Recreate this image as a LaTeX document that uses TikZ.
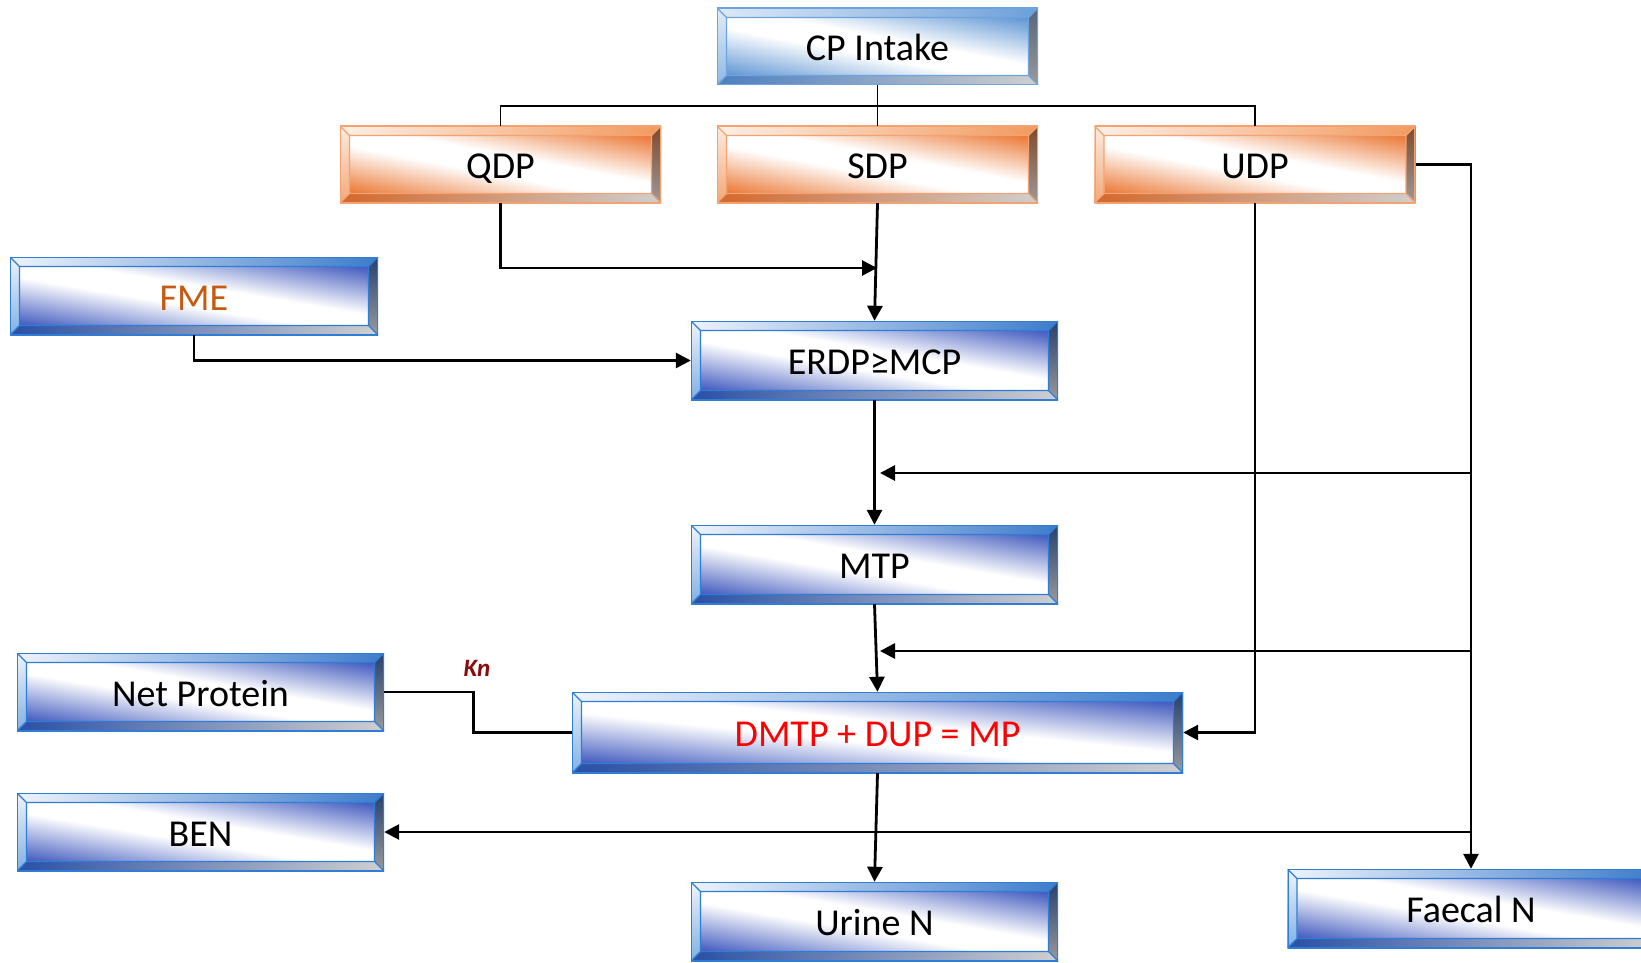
\documentclass[tikz,border=0pt]{standalone}
\usepackage{fontspec}
\setmainfont{Carlito}
\usetikzlibrary{arrows.meta,calc}

% dark blue boxes
\definecolor{b-topl}{HTML}{EEF3FB}
\definecolor{b-topr}{HTML}{3D7CCB}
\definecolor{b-lt}{HTML}{EEF4FB}
\definecolor{b-lb}{HTML}{7FB0E3}
\definecolor{b-rt}{HTML}{27406F}
\definecolor{b-rb}{HTML}{9A9A9A}
\definecolor{b-bl}{HTML}{2A50A5}
\definecolor{b-br}{HTML}{CFCFCF}
\definecolor{b-bord}{HTML}{2F7DD6}
% light blue box
\definecolor{l-topl}{HTML}{DDE9F7}
\definecolor{l-topr}{HTML}{6CA0DA}
\definecolor{l-lt}{HTML}{E2EDF8}
\definecolor{l-lb}{HTML}{8DB8E6}
\definecolor{l-rt}{HTML}{55657A}
\definecolor{l-rb}{HTML}{9A9A9A}
\definecolor{l-bl}{HTML}{4D7FC0}
\definecolor{l-br}{HTML}{CFCFCF}
\definecolor{l-bord}{HTML}{6FA3DD}
% orange boxes
\definecolor{o-topl}{HTML}{FDEFE5}
\definecolor{o-topr}{HTML}{F29A5E}
\definecolor{o-lt}{HTML}{FCEBDF}
\definecolor{o-lb}{HTML}{F3A878}
\definecolor{o-rt}{HTML}{7E4A2C}
\definecolor{o-rb}{HTML}{9A9A9A}
\definecolor{o-bl}{HTML}{D3682C}
\definecolor{o-br}{HTML}{CFCFCF}
\definecolor{o-bord}{HTML}{F4A271}

\definecolor{fmetext}{HTML}{C55A11}
\definecolor{kncol}{HTML}{8B0A0A}

% interior: white diagonal band, colour in the bottom-left and top-right corners
% args: name, 1-r, 1-g, 1-b
\newcommand\declband[4]{%
  \pgfdeclarefunctionalshading{band-#1}{\pgfpointorigin}{\pgfpoint{100bp}{100bp}}{}{%
    add 50 sub 100 div 0.5 sub abs 0.09 sub 0.41 div
    dup 0 lt {pop 0} if dup 1 gt {pop 1} if
    dup #2 mul 1 exch sub exch
    dup #3 mul 1 exch sub exch
    #4 mul 1 exch sub}}
\declband{b}{0.753}{0.655}{0.255}
\declband{l}{0.631}{0.416}{0.173}
\declband{o}{0.078}{0.537}{0.800}

\newcommand\bevelpic[1]{%
  \path (path picture bounding box.north west) coordinate (pNW)
        (path picture bounding box.north east) coordinate (pNE)
        (path picture bounding box.south west) coordinate (pSW)
        (path picture bounding box.south east) coordinate (pSE);
  \path ([shift={(9.5pt,-9.5pt)}]pNW) coordinate (iNW)
        ([shift={(-9.5pt,-9.5pt)}]pNE) coordinate (iNE)
        ([shift={(9.5pt,9.5pt)}]pSW) coordinate (iSW)
        ([shift={(-9.5pt,9.5pt)}]pSE) coordinate (iSE);
  \shade[shading=band-#1] (iNW) rectangle (iSE);
  \fill[left color=#1-topl, right color=#1-topr] (pNW) -- (pNE) -- (iNE) -- (iNW) -- cycle;
  \fill[left color=#1-bl, right color=#1-br] (pSW) -- (pSE) -- (iSE) -- (iSW) -- cycle;
  \fill[top color=#1-lt, bottom color=#1-lb] (pNW) -- (iNW) -- (iSW) -- (pSW) -- cycle;
  \fill[top color=#1-rt, bottom color=#1-rb] (pNE) -- (iNE) -- (iSE) -- (pSE) -- cycle;
  \draw[#1-bord, line width=1.2pt] (iNW) rectangle (iSE)
     (pNW) -- (iNW) (pNE) -- (iNE) (pSW) -- (iSW) (pSE) -- (iSE);
  \draw[#1-bord, line width=2.4pt] (pNW) rectangle (pSE);
}

\tikzset{
  bev/.style={draw=none, fill=white, inner sep=0pt, minimum width=367pt,
    minimum height=78pt, font=\fontsize{38}{42}\selectfont, text=black,
    text height=28pt, text depth=0pt},
  bluebox/.style={bev, path picture={\bevelpic{b}}},
  lightbox/.style={bev, path picture={\bevelpic{l}}},
  orbox/.style={bev, minimum width=321pt, minimum height=77pt, path picture={\bevelpic{o}}},
  conn/.style={line width=2.8pt},
  thin conn/.style={line width=1.9pt},
  arr/.style={conn, -{Triangle[length=15pt,width=15pt]}},
}

\begin{document}
\begin{tikzpicture}[x=1pt,y=-1pt]
\useasboundingbox (0,0) rectangle (1641,963);

% nodes
\node[lightbox, minimum width=321pt, minimum height=77pt] (cp) at (877.5,46.5) {CP Intake};
\node[orbox] (qdp) at (500.5,164.5) {QDP};
\node[orbox] (sdp) at (877.5,164.5) {SDP};
\node[orbox] (udp) at (1255,164.5) {UDP};
\node[bluebox, minimum width=368pt, text=fmetext] (fme) at (194,296) {FME};
\node[bluebox, minimum height=79pt] (erdp) at (874.5,360.5) {ERDP≥MCP};
\node[bluebox, minimum height=79pt] (mtp) at (874.5,564.5) {MTP};
\node[bluebox] (np) at (200.5,692) {Net Protein};
\node[bluebox, minimum width=611pt, minimum height=81pt, text=red] (dmtp) at (877.5,732.5) {DMTP + DUP = MP};
\node[bluebox] (ben) at (200.5,832) {BEN};
\node[bluebox, minimum height=79pt] (urine) at (874.5,921.5) {Urine N};
\node[bluebox, minimum height=79pt] (faecal) at (1471,908.5) {Faecal N};
\node[font=\fontsize{25}{29}\selectfont\bfseries\itshape, text=kncol] (kn) at (477,668) {Kn};

% coordinates
\coordinate (j) at (877.5,106);
\coordinate (m1) at (877,268);
\coordinate (b1) at (1472,473);
\coordinate (t1) at (880,473);
\coordinate (b2) at (1472,651);
\coordinate (t2) at (880,651);
\coordinate (b3) at (1472,832);

% connectors
\draw[thin conn] (cp.south) -- (j);
\draw[thin conn] (qdp.north) |- (j) -| (udp.north);
\draw[thin conn] (j) -- (sdp.north);

\draw[arr] (qdp.south) |- (m1);
\draw[arr] (sdp.south) -- (erdp.north);
\draw[arr] (fme.south) |- (erdp.west);
\draw[arr] (erdp.south) -- (mtp.north);
\draw[arr] (udp.east) -| (faecal.north);
\draw[arr] (b1) -- (t1);
\draw[arr] (b2) -- (t2);
\draw[arr] (mtp.south) -- (dmtp.north);
\draw[arr] (udp.south) |- (dmtp.east);
\draw[arr] (dmtp.south) -- (urine.north);
\draw[arr] (b3) -- (ben.east);
\draw[conn] (np.east) -- ++(89,0) |- (dmtp.west);
\end{tikzpicture}
\end{document}
